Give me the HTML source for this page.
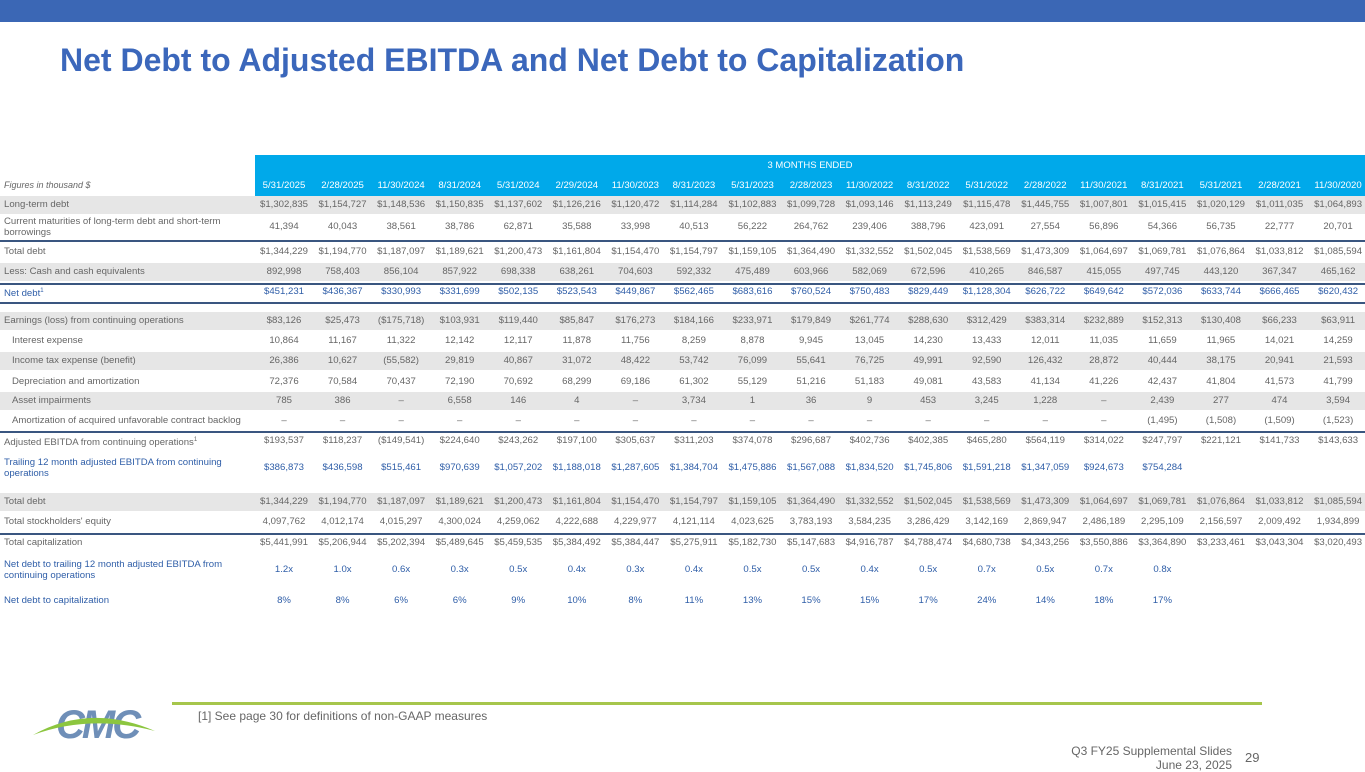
<!DOCTYPE html>
<html><head><meta charset="utf-8"><style>
body{margin:0;width:1365px;height:768px;position:relative;overflow:hidden;background:#fff;font-family:"Liberation Sans",Arial,sans-serif;}
.abs{position:absolute;}
.cell{position:absolute;font-size:9.6px;color:#666;text-align:center;width:60px;white-space:nowrap;line-height:12px;}
.lab{position:absolute;left:4px;font-size:9.6px;color:#666;line-height:11px;width:250px;}
.blue{color:#2f5ea8;}
.bg{position:absolute;left:0;width:1365px;background:#e6e6e6;}
.ln{position:absolute;left:0;width:1365px;height:1.5px;background:#3a5680;}
</style></head><body>
<div class="abs" style="left:0;top:0;width:1365px;height:22px;background:#3b67b5;"></div>
<div class="abs" style="left:60px;top:42px;font-size:32px;font-weight:bold;color:#3b67bb;">Net Debt to Adjusted EBITDA and Net Debt to Capitalization</div>
<div class="abs" style="left:255px;top:155px;width:1110px;height:42px;background:#00a9ea;"></div>
<div class="abs" style="left:255px;top:160px;width:1110px;text-align:center;color:#fff;font-size:9.5px;">3 MONTHS ENDED</div>
<div class="abs" style="left:4px;top:180px;font-size:9px;color:#666;font-style:italic;">Figures in thousand $</div>
<div id="tbl"></div>
<div class="abs" style="left:172px;top:702px;width:1090px;height:3px;background:#a6c64c;"></div>
<div class="abs" style="left:198px;top:709px;font-size:12px;color:#666;">[1] See page 30 for definitions of non-GAAP measures</div>
<svg class="abs" style="left:30px;top:698px" width="130" height="46">
<text x="26" y="40" font-family="Liberation Sans" font-weight="bold" font-style="italic" font-size="40" fill="#6f8fb8" letter-spacing="-3">CMC</text>
<path d="M3 37 Q60 5 125 33 Q60 16 3 37Z" fill="#8cc63f"/>
</svg>
<div class="abs" style="right:133px;top:744px;font-size:12px;color:#666;text-align:right;line-height:14px;">Q3 FY25 Supplemental Slides<br>June 23, 2025</div>
<div class="abs" style="left:1245px;top:750px;font-size:13px;color:#666;">29</div>
<script>
const dates=["5/31/2025","2/28/2025","11/30/2024","8/31/2024","5/31/2024","2/29/2024","11/30/2023","8/31/2023","5/31/2023","2/28/2023","11/30/2022","8/31/2022","5/31/2022","2/28/2022","11/30/2021","8/31/2021","5/31/2021","2/28/2021","11/30/2020"];
const longTermDebt=["$1,302,835","$1,154,727","$1,148,536","$1,150,835","$1,137,602","$1,126,216","$1,120,472","$1,114,284","$1,102,883","$1,099,728","$1,093,146","$1,113,249","$1,115,478","$1,445,755","$1,007,801","$1,015,415","$1,020,129","$1,011,035","$1,064,893"];
const currentMaturities=["41,394","40,043","38,561","38,786","62,871","35,588","33,998","40,513","56,222","264,762","239,406","388,796","423,091","27,554","56,896","54,366","56,735","22,777","20,701"];
const totalDebt=["$1,344,229","$1,194,770","$1,187,097","$1,189,621","$1,200,473","$1,161,804","$1,154,470","$1,154,797","$1,159,105","$1,364,490","$1,332,552","$1,502,045","$1,538,569","$1,473,309","$1,064,697","$1,069,781","$1,076,864","$1,033,812","$1,085,594"];
const cash=["892,998","758,403","856,104","857,922","698,338","638,261","704,603","592,332","475,489","603,966","582,069","672,596","410,265","846,587","415,055","497,745","443,120","367,347","465,162"];
const netDebt=["$451,231","$436,367","$330,993","$331,699","$502,135","$523,543","$449,867","$562,465","$683,616","$760,524","$750,483","$829,449","$1,128,304","$626,722","$649,642","$572,036","$633,744","$666,465","$620,432"];
const earnings=["$83,126","$25,473","($175,718)","$103,931","$119,440","$85,847","$176,273","$184,166","$233,971","$179,849","$261,774","$288,630","$312,429","$383,314","$232,889","$152,313","$130,408","$66,233","$63,911"];
const interest=["10,864","11,167","11,322","12,142","12,117","11,878","11,756","8,259","8,878","9,945","13,045","14,230","13,433","12,011","11,035","11,659","11,965","14,021","14,259"];
const incomeTax=["26,386","10,627","(55,582)","29,819","40,867","31,072","48,422","53,742","76,099","55,641","76,725","49,991","92,590","126,432","28,872","40,444","38,175","20,941","21,593"];
const depreciation=["72,376","70,584","70,437","72,190","70,692","68,299","69,186","61,302","55,129","51,216","51,183","49,081","43,583","41,134","41,226","42,437","41,804","41,573","41,799"];
const impairments=["785","386","–","6,558","146","4","–","3,734","1","36","9","453","3,245","1,228","–","2,439","277","474","3,594"];
const amortization=["–","–","–","–","–","–","–","–","–","–","–","–","–","–","–","(1,495)","(1,508)","(1,509)","(1,523)"];
const adjEbitda=["$193,537","$118,237","($149,541)","$224,640","$243,262","$197,100","$305,637","$311,203","$374,078","$296,687","$402,736","$402,385","$465,280","$564,119","$314,022","$247,797","$221,121","$141,733","$143,633"];
const ttmEbitda=["$386,873","$436,598","$515,461","$970,639","$1,057,202","$1,188,018","$1,287,605","$1,384,704","$1,475,886","$1,567,088","$1,834,520","$1,745,806","$1,591,218","$1,347,059","$924,673","$754,284","","",""];
const equity=["4,097,762","4,012,174","4,015,297","4,300,024","4,259,062","4,222,688","4,229,977","4,121,114","4,023,625","3,783,193","3,584,235","3,286,429","3,142,169","2,869,947","2,486,189","2,295,109","2,156,597","2,009,492","1,934,899"];
const totalCap=["$5,441,991","$5,206,944","$5,202,394","$5,489,645","$5,459,535","$5,384,492","$5,384,447","$5,275,911","$5,182,730","$5,147,683","$4,916,787","$4,788,474","$4,680,738","$4,343,256","$3,550,886","$3,364,890","$3,233,461","$3,043,304","$3,020,493"];
const leverage=["1.2x","1.0x","0.6x","0.3x","0.5x","0.4x","0.3x","0.4x","0.5x","0.5x","0.4x","0.5x","0.7x","0.5x","0.7x","0.8x","","",""];
const capRatio=["8%","8%","6%","6%","9%","10%","8%","11%","13%","15%","15%","17%","24%","14%","18%","17%","","",""];
const rows=[
["Long-term debt",longTermDebt,205,1,0],
["Current maturities of long-term debt and short-term<br>borrowings",currentMaturities,227,0,0],
["Total debt",totalDebt,252,0,0],
["Less: Cash and cash equivalents",cash,272,1,0],
["Net debt<sup style='font-size:6px'>1</sup>",netDebt,292,0,1],
["Earnings (loss) from continuing operations",earnings,321,1,0],
["&nbsp;&nbsp;&nbsp;Interest expense",interest,341,0,0],
["&nbsp;&nbsp;&nbsp;Income tax expense (benefit)",incomeTax,361,1,0],
["&nbsp;&nbsp;&nbsp;Depreciation and amortization",depreciation,382,0,0],
["&nbsp;&nbsp;&nbsp;Asset impairments",impairments,401,1,0],
["&nbsp;&nbsp;&nbsp;Amortization of acquired unfavorable contract backlog",amortization,421,0,0],
["Adjusted EBITDA from continuing operations<sup style='font-size:6px'>1</sup>",adjEbitda,441,0,0],
["Trailing 12 month adjusted EBITDA from continuing<br>operations",ttmEbitda,468,0,1],
["Total debt",totalDebt,502,1,0],
["Total stockholders' equity",equity,522,0,0],
["Total capitalization",totalCap,543,0,0],
["Net debt to trailing 12 month adjusted EBITDA from<br>continuing operations",leverage,570,0,1],
["Net debt to capitalization",capRatio,601,0,1]];
const lines=[240,283,302,431,533];
const T=document.getElementById('tbl');
const colX=i=>284+i*58.56;
dates.forEach((d,i)=>{const e=document.createElement('div');e.className='cell';e.style.left=(colX(i)-30)+'px';e.style.top='180px';e.style.color='#fff';e.textContent=d;


T.appendChild(e);});
rows.forEach(r=>{
 if(r[3]){const b=document.createElement('div');b.className='bg';b.style.top=(r[2]-9)+'px';b.style.height='18px';
 
 
 T.appendChild(b);}
 const two=r[0].includes('<br>');
 const l=document.createElement('div');l.className='lab'+(r[4]?' blue':'');l.style.top=(r[2]-(two?11:6))+'px';l.innerHTML=r[0];
 
 
 T.appendChild(l);
 r[1].forEach((v,i)=>{const c=document.createElement('div');c.className='cell'+(r[4]?' blue':'');c.style.left=(colX(i)-30)+'px';c.style.top=(r[2]-6)+'px';c.textContent=v;
 
 
 T.appendChild(c);});
});
lines.forEach(y=>{const e=document.createElement('div');e.className='ln';e.style.top=y+'px';


T.appendChild(e);});
</script>
</body></html>
